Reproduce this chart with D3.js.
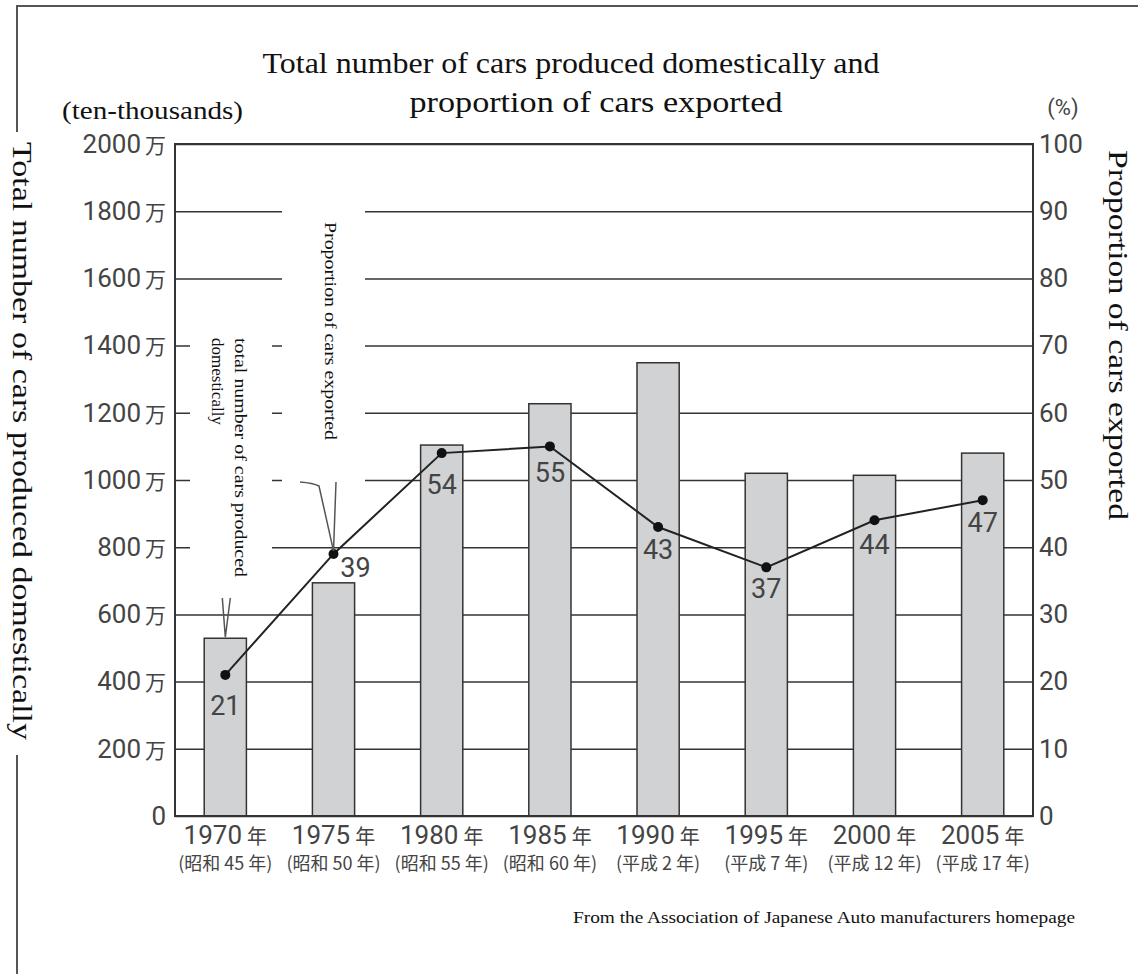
<!DOCTYPE html>
<html>
<head>
<meta charset="utf-8">
<script src="https://cdn.jsdelivr.net/npm/d3@7"></script>
<style>
  body { margin: 0; background: #fff; }
  svg { display: block; }
</style>
</head>
<body>
<div id="chart"></div>
<script>
// Data
const years = ["1970", "1975", "1980", "1985", "1990", "1995", "2000", "2005"];
const eraLabels = ["昭和 45 年", "昭和 50 年", "昭和 55 年", "昭和 60 年", "平成 2 年", "平成 7 年", "平成 12 年", "平成 17 年"];
const production = [529, 694, 1104, 1227, 1349, 1020, 1014, 1080]; // ten-thousands of cars
const exportPct = [21, 39, 54, 55, 43, 37, 44, 47];                // %
const leftTicks = [0, 200, 400, 600, 800, 1000, 1200, 1400, 1600, 1800, 2000];
const rightTicks = [0, 10, 20, 30, 40, 50, 60, 70, 80, 90, 100];

const W = 1138, H = 974;
const plot = { left: 175, right: 1033, top: 144, bottom: 816 };
const ink = "#333";
const numFont = "Roboto, 'DejaVu Sans', sans-serif";
const cjkFont = "'Noto Sans CJK JP', sans-serif";
const serif = "'Liberation Serif', 'Times New Roman', serif";

const svg = d3.select("#chart").append("svg")
  .attr("width", W)
  .attr("height", H);

// Scales
const x = d3.scaleBand().domain(years)
  .range([plot.left, plot.right])
  .paddingInner(0.61)
  .paddingOuter(0.27);
const yL = d3.scaleLinear().domain([0, 2000]).range([plot.bottom, plot.top]);
const yR = d3.scaleLinear().domain([0, 100]).range([plot.bottom, plot.top]);
const cx = d => x(d) + x.bandwidth() / 2;

// Outer frame (left side broken by the rotated title)
svg.append("path")
  .attr("d", "M17,132 V6 H1138 M17,755 V974")
  .attr("fill", "none")
  .attr("stroke", "#555")
  .attr("stroke-width", 2);

// Gridlines
const grid = svg.append("g")
  .attr("transform", `translate(${plot.left},0)`)
  .call(d3.axisLeft(yL).tickValues(leftTicks).tickSize(-(plot.right - plot.left)).tickFormat(""));
grid.select(".domain").remove();
grid.selectAll("line").attr("stroke", ink).attr("stroke-width", 1.5);

// White boxes behind the in-plot notes
svg.append("rect").attr("x", 282).attr("y", 190).attr("width", 83).attr("height", 302).attr("fill", "#fff");
svg.append("rect").attr("x", 190).attr("y", 318).attr("width", 82).attr("height", 274).attr("fill", "#fff");

// Bars
svg.selectAll(".bar")
  .data(years)
  .join("rect")
  .attr("class", "bar")
  .attr("x", d => x(d))
  .attr("width", x.bandwidth())
  .attr("y", (d, i) => yL(production[i]))
  .attr("height", (d, i) => yL(0) - yL(production[i]))
  .attr("fill", "#d1d2d4")
  .attr("stroke", ink)
  .attr("stroke-width", 1.5);

// Plot frame
svg.append("rect")
  .attr("x", plot.left).attr("y", plot.top)
  .attr("width", plot.right - plot.left).attr("height", plot.bottom - plot.top)
  .attr("fill", "none")
  .attr("stroke", ink)
  .attr("stroke-width", 2);

// Left axis labels
const leftAxis = svg.append("g")
  .attr("transform", `translate(${plot.left},0)`)
  .call(d3.axisLeft(yL).tickValues(leftTicks).tickSize(0).tickPadding(9).tickFormat(d => d));
leftAxis.select(".domain").remove();
leftAxis.selectAll("text")
  .attr("fill", "#444")
  .attr("font-family", numFont)
  .attr("font-size", 26)
  .each(function (d) {
    const t = d3.select(this).text("");
    t.append("tspan").text(d);
    if (d !== 0) {
      t.append("tspan").attr("font-family", cjkFont).attr("font-size", 21).attr("dx", 4).text("万");
    }
  });

// Right axis labels
const rightAxis = svg.append("g")
  .attr("transform", `translate(${plot.right},0)`)
  .call(d3.axisRight(yR).tickValues(rightTicks).tickSize(0).tickPadding(6));
rightAxis.select(".domain").remove();
rightAxis.selectAll("text")
  .attr("fill", "#444")
  .attr("font-family", numFont)
  .attr("font-size", 26);

// X labels, two lines
const xLab = svg.append("g");
xLab.selectAll(".yr")
  .data(years)
  .join("text")
  .attr("class", "yr")
  .attr("x", cx)
  .attr("y", 835)
  .attr("dominant-baseline", "central")
  .attr("text-anchor", "middle")
  .attr("fill", "#444")
  .each(function (d) {
    const t = d3.select(this);
    t.append("tspan").attr("font-family", numFont).attr("font-size", 26).text(d);
    t.append("tspan").attr("font-family", cjkFont).attr("font-size", 20).attr("dx", 5).text("年");
  });
xLab.selectAll(".era")
  .data(eraLabels)
  .join("text")
  .attr("class", "era")
  .attr("x", (d, i) => cx(years[i]))
  .attr("y", 862)
  .attr("dominant-baseline", "central")
  .attr("text-anchor", "middle")
  .attr("fill", "#444")
  .attr("font-family", cjkFont)
  .attr("font-size", 18)
  .text(d => `(${d})`);

// Export proportion line
const line = d3.line()
  .x((d, i) => cx(years[i]))
  .y(d => yR(d));
svg.append("path")
  .datum(exportPct)
  .attr("d", line)
  .attr("fill", "none")
  .attr("stroke", "#222")
  .attr("stroke-width", 2);
svg.selectAll(".dot")
  .data(exportPct)
  .join("circle")
  .attr("class", "dot")
  .attr("cx", (d, i) => cx(years[i]))
  .attr("cy", d => yR(d))
  .attr("r", 5)
  .attr("fill", "#111");

// Value labels
const labelOffset = [[0, 31], [22, 14], [0, 32], [0, 27], [0, 23], [0, 22], [0, 25], [0, 23]];
svg.selectAll(".val")
  .data(exportPct)
  .join("text")
  .attr("class", "val")
  .attr("x", (d, i) => cx(years[i]) + labelOffset[i][0])
  .attr("y", (d, i) => yR(d) + labelOffset[i][1])
  .attr("dominant-baseline", "central")
  .attr("text-anchor", "middle")
  .attr("fill", "#444")
  .attr("font-family", numFont)
  .attr("font-size", 27)
  .text(d => d);

// Leader marks for the notes
const p1970 = [cx("1970"), yL(production[0])];
const p1975 = [cx("1975"), yR(exportPct[1])];
svg.append("path")
  .attr("d", `M${p1970[0] - 3},598 L${p1970[0]},${p1970[1] - 1} M${p1970[0] + 5},598 L${p1970[0]},${p1970[1] - 1}`
    + ` M300,482 Q313,483 319,486 L${p1975[0]},${p1975[1] - 3} M336,482 L${p1975[0]},${p1975[1] - 3}`)
  .attr("fill", "none")
  .attr("stroke", "#555")
  .attr("stroke-width", 1.5);

// Rotated notes inside the plot
svg.append("text")
  .attr("transform", "translate(330,222) rotate(90)")
  .attr("dominant-baseline", "central")
  .attr("font-family", serif)
  .attr("font-size", 17)
  .attr("fill", "#111")
  .attr("textLength", 218)
  .attr("lengthAdjust", "spacingAndGlyphs")
  .text("Proportion of cars exported");
const note2 = svg.append("g").attr("transform", "translate(240,338) rotate(90)");
note2.append("text")
  .attr("dominant-baseline", "central")
  .attr("font-family", serif).attr("font-size", 17).attr("fill", "#111")
  .attr("textLength", 239).attr("lengthAdjust", "spacingAndGlyphs")
  .text("total number of cars produced");
note2.append("text")
  .attr("y", 23)
  .attr("dominant-baseline", "central")
  .attr("font-family", serif).attr("font-size", 17).attr("fill", "#111")
  .text("domestically");

// Titles and notes
const title = svg.append("g").attr("font-family", serif).attr("fill", "#111");
title.append("text")
  .attr("x", 571).attr("y", 63)
  .attr("text-anchor", "middle").attr("dominant-baseline", "central")
  .attr("font-size", 29)
  .attr("textLength", 617).attr("lengthAdjust", "spacingAndGlyphs")
  .text("Total number of cars produced domestically and");
title.append("text")
  .attr("x", 596).attr("y", 102)
  .attr("text-anchor", "middle").attr("dominant-baseline", "central")
  .attr("font-size", 29)
  .attr("textLength", 373).attr("lengthAdjust", "spacingAndGlyphs")
  .text("proportion of cars exported");
title.append("text")
  .attr("x", 62).attr("y", 110)
  .attr("dominant-baseline", "central")
  .attr("font-size", 25)
  .attr("textLength", 181).attr("lengthAdjust", "spacingAndGlyphs")
  .text("(ten-thousands)");
title.append("text")
  .attr("transform", "translate(22,142) rotate(90)")
  .attr("dominant-baseline", "central")
  .attr("font-size", 28)
  .attr("textLength", 598).attr("lengthAdjust", "spacingAndGlyphs")
  .text("Total number of cars produced domestically");
title.append("text")
  .attr("transform", "translate(1118,150) rotate(90)")
  .attr("dominant-baseline", "central")
  .attr("font-size", 28)
  .attr("textLength", 370).attr("lengthAdjust", "spacingAndGlyphs")
  .text("Proportion of cars exported");
title.append("text")
  .attr("x", 573).attr("y", 917)
  .attr("dominant-baseline", "central")
  .attr("font-size", 17)
  .attr("textLength", 502).attr("lengthAdjust", "spacingAndGlyphs")
  .text("From the Association of Japanese Auto manufacturers homepage");

svg.append("text")
  .attr("x", 1063).attr("y", 107)
  .attr("text-anchor", "middle").attr("dominant-baseline", "central")
  .attr("font-family", numFont).attr("font-size", 22).attr("fill", "#444")
  .text("(%)");
</script>
</body>
</html>
